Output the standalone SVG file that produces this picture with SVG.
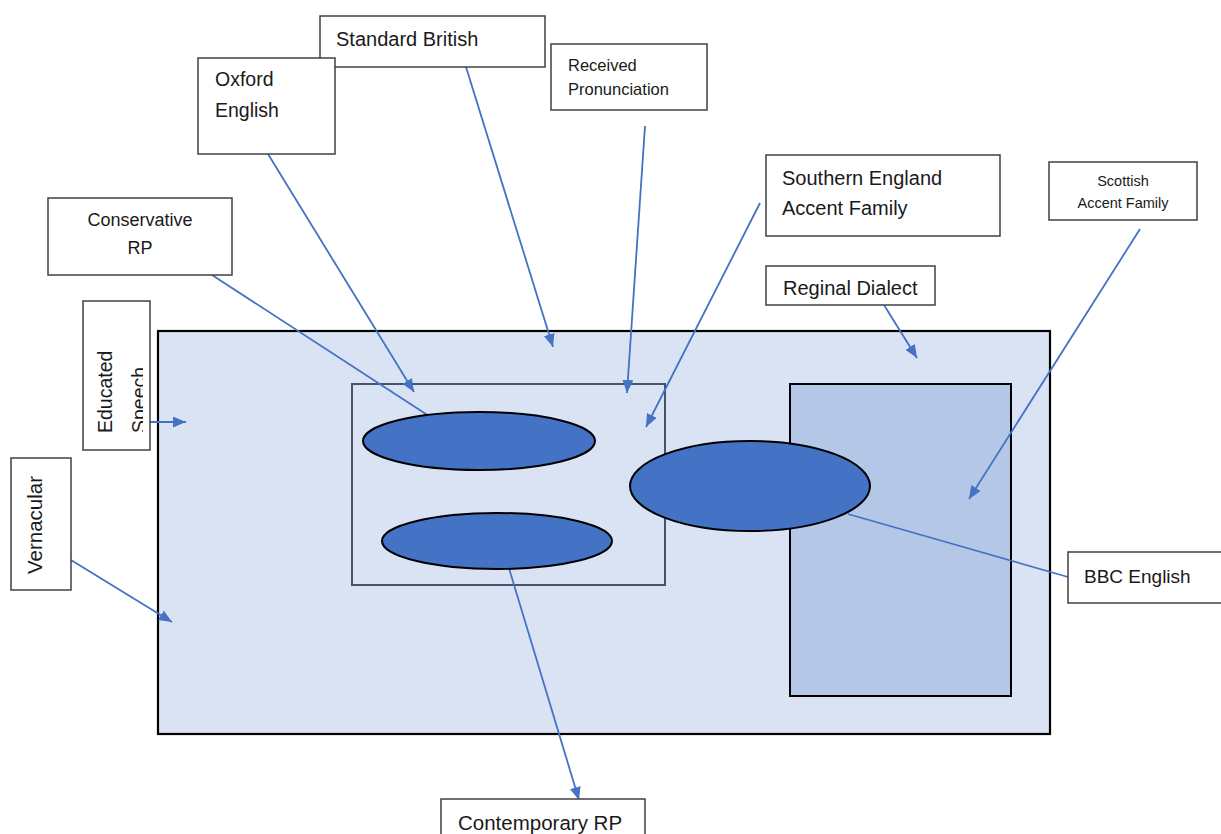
<svg xmlns="http://www.w3.org/2000/svg" width="1221" height="834" viewBox="0 0 1221 834">
<style>
.box{fill:#ffffff;stroke:#404040;stroke-width:1.5}
.t{font-family:"Liberation Sans",Arial,sans-serif;fill:#1a1a1a}
.c{stroke:#4472c4;stroke-width:1.8;fill:none}
.ell{fill:#4472c4;stroke:#000;stroke-width:2}
</style>
<defs>
<marker id="ah" markerUnits="userSpaceOnUse" markerWidth="13" markerHeight="11" refX="13" refY="5.5" orient="auto">
<path d="M0,0 L13,5.5 L0,11 z" fill="#4472c4"/>
</marker>
<clipPath id="edclip"><rect x="83" y="301" width="60" height="150"/></clipPath>
</defs>
<rect width="1221" height="834" fill="#ffffff"/>
<g id="area-main">
<rect x="158" y="331" width="892" height="403" fill="#dae3f3" stroke="#000" stroke-width="2.2"/>
</g>
<g id="area-inner">
<rect x="352" y="384" width="313" height="201" fill="#dae3f3" stroke="#44546a" stroke-width="2"/>
</g>
<g id="area-right">
<rect x="790" y="384" width="221" height="312" fill="#b4c7e7" stroke="#000" stroke-width="2"/>
</g>
<g id="connectors-under">
<line class="c" x1="212" y1="275" x2="432" y2="418"/>
<line class="c" x1="1068" y1="577" x2="848" y2="514"/>
<line class="c" x1="508" y1="565" x2="579" y2="800" marker-end="url(#ah)"/>
</g>
<g id="ellipse-top"><ellipse class="ell" cx="479" cy="441" rx="116" ry="29"/></g>
<g id="ellipse-bottom"><ellipse class="ell" cx="497" cy="541" rx="115" ry="28"/></g>
<g id="ellipse-big"><ellipse class="ell" cx="750" cy="486" rx="120" ry="45"/></g>
<g id="connectors">
<line class="c" x1="466" y1="67" x2="553" y2="347" marker-end="url(#ah)"/>
<line class="c" x1="268" y1="154" x2="414" y2="392" marker-end="url(#ah)"/>
<line class="c" x1="645" y1="126" x2="627" y2="393" marker-end="url(#ah)"/>
<line class="c" x1="760" y1="203" x2="646" y2="427" marker-end="url(#ah)"/>
<line class="c" x1="884" y1="305" x2="917" y2="358" marker-end="url(#ah)"/>
<line class="c" x1="1140" y1="229" x2="969" y2="499" marker-end="url(#ah)"/>
<line class="c" x1="150" y1="422" x2="186" y2="422" marker-end="url(#ah)"/>
<line class="c" x1="71" y1="560" x2="172" y2="622" marker-end="url(#ah)"/>
</g>
<g id="node-standard-british">
<rect class="box" x="320" y="16" width="225" height="51"/>
<text class="t" x="336" y="46" font-size="20">Standard British</text>
</g>
<g id="node-oxford-english">
<rect class="box" x="198" y="58" width="137" height="96"/>
<text class="t" x="215" y="86" font-size="19.5">Oxford</text>
<text class="t" x="215" y="117" font-size="19.5">English</text>
</g>
<g id="node-received-pronunciation">
<rect class="box" x="551" y="44" width="156" height="66"/>
<text class="t" x="568" y="71" font-size="16.5">Received</text>
<text class="t" x="568" y="95" font-size="16.5">Pronunciation</text>
</g>
<g id="node-conservative-rp">
<rect class="box" x="48" y="198" width="184" height="77"/>
<text class="t" x="140" y="226" font-size="18" text-anchor="middle">Conservative</text>
<text class="t" x="140" y="254" font-size="18" text-anchor="middle">RP</text>
</g>
<g id="node-southern-england">
<rect class="box" x="766" y="155" width="234" height="81"/>
<text class="t" x="782" y="185" font-size="20">Southern England</text>
<text class="t" x="782" y="215" font-size="20">Accent Family</text>
</g>
<g id="node-scottish">
<rect class="box" x="1049" y="162" width="148" height="58"/>
<text class="t" x="1123" y="186" font-size="14.5" text-anchor="middle">Scottish</text>
<text class="t" x="1123" y="208" font-size="14.5" text-anchor="middle">Accent Family</text>
</g>
<g id="node-reginal-dialect">
<rect class="box" x="766" y="266" width="169" height="39"/>
<text class="t" x="783" y="295" font-size="20">Reginal Dialect</text>
</g>
<g id="node-educated-speech">
<rect class="box" x="83" y="301" width="67" height="149"/>
<g clip-path="url(#edclip)">
<text class="t" font-size="19.5" transform="translate(112 433) rotate(-90)">Educated</text>
<text class="t" font-size="19.5" transform="translate(146 433) rotate(-90)">Speech</text>
</g>
</g>
<g id="node-vernacular">
<rect class="box" x="11" y="458" width="60" height="132"/>
<text class="t" font-size="20.5" text-anchor="middle" transform="translate(42 525) rotate(-90)">Vernacular</text>
</g>
<g id="node-bbc-english">
<rect class="box" x="1068" y="552" width="160" height="51"/>
<text class="t" x="1084" y="583" font-size="19">BBC English</text>
</g>
<g id="node-contemporary-rp">
<rect class="box" x="441" y="799" width="204" height="50"/>
<text class="t" x="458" y="830" font-size="20.5">Contemporary RP</text>
</g>
</svg>
